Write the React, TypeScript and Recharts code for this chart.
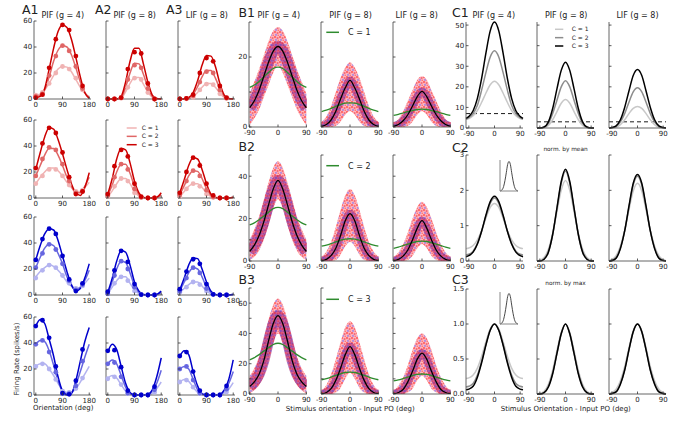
import React from 'react';
import { ComposedChart, Line, Area, XAxis, YAxis, ReferenceLine } from 'recharts';

const FONT = '"DejaVu Sans", sans-serif';
const TXT = '#222';
const SPINE = '#555';

// ---------------- A: tuning curves ----------------
const A_CURVE_X = [0, 15, 30, 45, 60, 75, 90, 105, 120, 135, 150, 165, 180];
const A_MARK_X = [0, 22.5, 45, 67.5, 90, 112.5, 135, 157.5];
const A_X_TICKS = [0, 90, 180];
const A_Y_TICKS = [0, 20, 40, 60];

const A1R1_C1 = [3, 4, 7, 12, 18, 23, 25, 24.5, 21, 15, 9, 4.5, 2];
const A1R1_C2 = [1.5, 3, 7, 17, 29, 37.5, 41, 40, 34, 24, 13, 5, 1];
const A1R1_C3 = [1, 2, 8, 23, 39, 52, 57, 55, 46, 32, 17, 5, 0.5];
const A1R1_M1 = [3, 5, 12, 20, 25, 23, 16, 7];
const A1R1_M2 = [2, 4, 18, 33, 41, 37, 25, 8];
const A1R1_M3 = [1, 3.3, 24, 46, 57, 53, 33, 10];

const A2R1_C1 = [0, 0, 0, 0.8, 5.5, 12, 16.5, 16.5, 11.5, 5.5, 1.3, 0, 0];
const A2R1_C2 = [0, 0, 0, 1, 9, 20, 27.5, 27, 19, 9, 2, 0.2, 0];
const A2R1_C3 = [0, 0, 0, 2, 13, 29, 39, 39, 27, 13, 3, 0.3, 0];
const A2R1_M1 = [0, 0, 0.5, 9, 16, 15, 5, 0];
const A2R1_M2 = [0, 0, 1, 15, 26, 24, 8, 0];
const A2R1_M3 = [0, 0, 1, 23, 36, 35, 12, 0];

const A3R1_C1 = [0, 0, 0.4, 2, 5, 9, 12, 12, 9, 4.5, 1.2, 0.1, 0];
const A3R1_C2 = [0, 0, 0.7, 3.5, 9.5, 17, 22, 22, 16, 8, 2, 0.2, 0];
const A3R1_C3 = [0, 0, 1, 5, 14, 26, 33.5, 33, 25, 12, 3, 0.3, 0];
const A3R1_M1 = [0, 0.2, 1.2, 7, 11.5, 11, 4, 0.4];
const A3R1_M2 = [0, 0.4, 2.5, 13, 21, 20, 7, 0.7];
const A3R1_M3 = [0, 0.5, 3.3, 20, 31.5, 29, 10, 1];

const A1R2_C1 = [11, 16, 20, 23, 23, 21, 17, 12, 8, 5, 5, 8, 12];
const A1R2_C2 = [17, 25, 33, 38, 38, 33, 25, 16, 9, 4, 4, 9, 16];
const A1R2_C3 = [22, 35, 47, 54, 53, 45, 34, 22, 11, 4, 2, 8, 19.5];
const A1R2_M1 = [11, 17, 22, 22, 17, 10, 5, 6];
const A1R2_M2 = [17, 30, 39, 37, 26, 13, 4, 5];
const A1R2_M3 = [23, 42, 54, 50, 35, 16, 3, 5];

const A2R2_C1 = [1, 5.5, 11, 15, 15, 11, 5, 1.5, 0.2, 0, 0, 0.2, 1.5];
const A2R2_C2 = [2, 10, 20, 26, 26, 19, 9, 2.5, 0.3, 0, 0, 0.3, 2.5];
const A2R2_C3 = [3, 15, 30, 38, 37, 27, 13, 4, 0.5, 0, 0, 0.5, 4];
const A2R2_M1 = [1, 9, 15, 13, 4, 0.3, 0, 0];
const A2R2_M2 = [2, 16, 26, 22, 7, 0.5, 0, 0];
const A2R2_M3 = [3, 24.5, 37, 32, 11, 1, 0, 0];

const A3R2_C1 = [1.2, 5, 9, 11, 11, 8, 4, 1, 0.1, 0, 0, 0, 0.1];
const A3R2_C2 = [2.5, 9.5, 17, 21, 20.5, 15, 7, 2, 0.3, 0, 0, 0, 0.3];
const A3R2_C3 = [4, 14, 25, 31, 30, 22, 11, 3, 0.5, 0, 0, 0, 0.5];
const A3R2_M1 = [1.2, 7, 11, 9, 3, 0.4, 0, 0];
const A3R2_M2 = [2.5, 13, 21, 17, 6, 0.8, 0, 0];
const A3R2_M3 = [4, 20, 31, 25, 11, 2, 0, 0];

const A1R3_C1 = [14, 18, 21, 23, 22, 19, 15, 10, 7, 5, 6, 9, 13];
const A1R3_C2 = [21, 29, 36, 39, 38, 32, 24, 14, 7, 4, 6, 11, 19];
const A1R3_C3 = [27, 38, 47, 51, 50, 42, 30, 18, 8, 3, 5, 13, 24];
const A1R3_M1 = [13, 19, 23, 21, 15, 9, 5, 7];
const A1R3_M2 = [21, 32, 39, 35, 24, 11, 4, 8];
const A1R3_M3 = [27, 43, 51, 47, 30, 12, 3, 9];

const A2R3_C1 = [1, 6, 11, 14, 14, 9, 4, 1, 0, 0, 0, 0.2, 1];
const A2R3_C2 = [1, 10, 20, 26, 25, 17, 7, 2, 0.2, 0, 0, 0.3, 2];
const A2R3_C3 = [2, 13, 26, 34, 33, 23, 10, 3, 0.3, 0, 0, 0.5, 3];
const A2R3_M1 = [0.8, 9, 14, 11, 3, 0.2, 0, 0];
const A2R3_M2 = [1, 15, 26, 20, 6, 0.3, 0, 0];
const A2R3_M3 = [2.5, 19, 34, 25.5, 8.4, 0.3, 0, 0];

const A3R3_C1 = [2, 5, 8, 10, 10, 7, 3, 1, 0, 0, 0, 0, 0];
const A3R3_C2 = [3, 10, 17, 21, 20, 14, 6, 2, 0.2, 0, 0, 0, 0.2];
const A3R3_C3 = [4, 13, 23, 28.5, 28, 20, 10, 3, 0.5, 0, 0, 0, 0.5];
const A3R3_M1 = [2, 6, 10, 8, 3, 0.3, 0, 0];
const A3R3_M2 = [3, 13, 21, 17, 5, 0.5, 0, 0];
const A3R3_M3 = [4.5, 18, 27.5, 24, 8.4, 0.5, 0, 0];

const A1R4_C1 = [22, 24, 24, 20, 15, 9, 4, 2, 2, 5, 10, 16, 22];
const A1R4_C2 = [39, 42, 41, 34, 23, 11, 3, 1, 2, 8, 18, 29, 39];
const A1R4_C3 = [53, 58, 55, 43, 30, 14, 3, 0, 1, 11, 26, 41, 52];
const A1R4_M1 = [22, 24, 20, 12, 3, 2, 5, 13];
const A1R4_M2 = [39, 42, 33, 17.5, 1, 1, 7, 26];
const A1R4_M3 = [53, 57.5, 44, 22, 1.5, 0.5, 11, 35];

const A2R4_C1 = [13, 15, 13, 8, 3, 0.5, 0, 0, 0, 0.1, 1.5, 5, 10];
const A2R4_C2 = [24, 27, 24, 15, 6, 1, 0, 0, 0, 0.3, 3, 9, 19];
const A2R4_C3 = [33, 39, 35, 22, 9, 2, 0, 0, 0, 0.5, 4, 14, 28.5];
const A2R4_M1 = [12.5, 14, 8, 1, 0, 0, 0, 2];
const A2R4_M2 = [24, 25, 14, 1.5, 0, 0, 0, 4];
const A2R4_M3 = [34, 34.5, 21.4, 3.3, 0, 0, 0, 6.4];

const A3R4_C1 = [10, 12, 10.5, 6, 2, 0.3, 0, 0, 0, 0.1, 1.5, 4.5, 9.5];
const A3R4_C2 = [20, 22, 20, 12, 4, 0.5, 0, 0, 0, 0.3, 3, 9, 18];
const A3R4_C3 = [30, 34, 31, 18, 7, 1, 0, 0, 0, 0.5, 4, 12, 27];
const A3R4_M1 = [10, 11.5, 6, 1, 0, 0, 0, 2.3];
const A3R4_M2 = [20, 22, 11.5, 1.5, 0, 0, 0, 4.5];
const A3R4_M3 = [30, 33, 18, 3.3, 0, 0, 0, 7];

const RED = ['#f0b3b3', '#e06666', '#cc0000'];
const BLUE = ['#b3b3f0', '#6666e0', '#0000cc'];

// ---------------- B: population responses ----------------
const B_X = [-90, -75, -60, -45, -30, -15, 0, 15, 30, 45, 60, 75, 90];
const B_X_TICKS = [-90, 0, 90];

const B1L_K = [5.5, 7.5, 10.5, 14.5, 18.5, 21.7, 23, 21.7, 18.5, 14.5, 10.5, 7.5, 5.5];
const B1L_G = [11.3, 12, 13, 14.3, 15.6, 16.7, 17.1, 16.7, 15.6, 14.3, 13, 12, 11.3];
const B1L_LO = [0.5, 2.5, 5, 8.5, 12, 15.5, 17.5, 15.5, 12, 8.5, 5, 2.5, 0.5];
const B1L_HI = [9.5, 13, 16.5, 20.5, 24.5, 27.5, 28.5, 27.5, 24.5, 20.5, 16.5, 13, 9.5];

const B1M_K = [0.2, 0.7, 2, 4.5, 8, 11.2, 13.3, 11.2, 8, 4.5, 2, 0.7, 0.2];
const B1M_G = [4.4, 4.8, 5.3, 5.9, 6.4, 6.8, 6.9, 6.8, 6.4, 5.9, 5.3, 4.8, 4.4];
const B1M_LO = [0, 0, 0, 0.3, 1.5, 3.5, 4.5, 3.5, 1.5, 0.3, 0, 0, 0];
const B1M_HI = [1.5, 3, 6, 10, 14, 17, 18.5, 17, 14, 10, 6, 3, 1.5];

const B1R_K = [0.2, 0.7, 1.8, 3.5, 6, 8.7, 10.2, 8.7, 6, 3.5, 1.8, 0.7, 0.2];
const B1R_G = [3.3, 3.6, 4, 4.4, 4.7, 5, 5.1, 5, 4.7, 4.4, 4, 3.6, 3.3];
const B1R_LO = [0, 0, 0, 0.3, 1.5, 3.5, 4.5, 3.5, 1.5, 0.3, 0, 0, 0];
const B1R_HI = [1.2, 2.2, 4.5, 7.5, 10.5, 13.5, 14.5, 13.5, 10.5, 7.5, 4.5, 2.2, 1.2];

const B2L_K = [4.5, 7.5, 12, 18.5, 26.5, 34, 38, 34, 26.5, 18.5, 12, 7.5, 4.5];
const B2L_G = [17, 18, 19.5, 21.2, 23, 24.7, 25.3, 24.7, 23, 21.2, 19.5, 18, 17];
const B2L_LO = [0.5, 2, 5, 10, 17, 25, 29, 25, 17, 10, 5, 2, 0.5];
const B2L_HI = [10, 15, 21, 29, 37, 44, 47, 44, 37, 29, 21, 15, 10];

const B2M_K = [0.2, 0.8, 2.5, 6, 12, 19, 22.3, 19, 12, 6, 2.5, 0.8, 0.2];
const B2M_G = [7, 7.5, 8.2, 9, 9.8, 10.3, 10.5, 10.3, 9.8, 9, 8.2, 7.5, 7];
const B2M_LO = [0, 0, 0, 0.5, 3, 7, 9, 7, 3, 0.5, 0, 0, 0];
const B2M_HI = [2, 4.5, 9, 16, 24, 31, 34, 31, 24, 16, 9, 4.5, 2];

const B2R_K = [0.2, 0.8, 2.3, 5.2, 10, 15.5, 19, 15.5, 10, 5.2, 2.3, 0.8, 0.2];
const B2R_G = [6, 6.5, 7.3, 8, 8.7, 9.2, 9.4, 9.2, 8.7, 8, 7.3, 6.5, 6];
const B2R_LO = [0, 0, 0, 0.5, 2.5, 6, 8, 6, 2.5, 0.5, 0, 0, 0];
const B2R_HI = [2, 4, 8, 13.5, 20, 25.5, 28, 25.5, 20, 13.5, 8, 4, 2];

const B3L_K = [5, 8, 13, 22, 35, 46.5, 51.7, 46.5, 35, 22, 13, 8, 5];
const B3L_G = [22.6, 24, 26, 28.3, 30.5, 32.7, 33.5, 32.7, 30.5, 28.3, 26, 24, 22.6];
const B3L_LO = [0.5, 2.5, 6, 12, 22, 34, 40, 34, 22, 12, 6, 2.5, 0.5];
const B3L_HI = [12, 17, 25, 36, 49, 59, 63, 59, 49, 36, 25, 17, 12];

const B3M_K = [0.2, 1, 3.5, 9, 17, 26, 31.3, 26, 17, 9, 3.5, 1, 0.2];
const B3M_G = [9.4, 10.2, 11.2, 12.3, 13.3, 14.2, 14.5, 14.2, 13.3, 12.3, 11.2, 10.2, 9.4];
const B3M_LO = [0, 0, 0, 1, 4, 10, 14, 10, 4, 1, 0, 0, 0];
const B3M_HI = [2.5, 6, 13, 23, 34, 44, 48, 44, 34, 23, 13, 6, 2.5];

const B3R_K = [0.2, 1, 3, 8, 15, 23, 27, 23, 15, 8, 3, 1, 0.2];
const B3R_G = [8.7, 9.3, 10.2, 11.2, 12.2, 13, 13.2, 13, 12.2, 11.2, 10.2, 9.3, 8.7];
const B3R_LO = [0, 0, 0, 1, 3.5, 9, 12, 9, 3.5, 1, 0, 0, 0];
const B3R_HI = [2.5, 5.5, 11, 19, 29, 37, 40, 37, 29, 19, 11, 5.5, 2.5];

// ---------------- C: model curves ----------------
const C_X = [-100, -90, -75, -60, -45, -30, -15, 0, 15, 30, 45, 60, 75, 90, 100];
const C_X_TICKS = [-90, 0, 90];
const C1_DASH = [7, 3, 3];

const C1L_K = [4.7, 5.6, 8.4, 14.4, 24.2, 36.5, 47.2, 51.5, 47.2, 36.5, 24.2, 14.4, 8.4, 5.6, 4.7];
const C1L_G = [4.3, 5, 7, 11, 18.5, 27, 34.5, 37.5, 34.5, 27, 18.5, 11, 7, 5, 4.3];
const C1L_L = [4.2, 4.6, 6, 8.5, 12.5, 17, 21, 22.7, 21, 17, 12.5, 8.5, 6, 4.6, 4.2];
const C1M_K = [0, 0, 0.5, 3, 9.5, 19, 28, 32, 28, 19, 9.5, 3, 0.5, 0, 0];
const C1M_G = [0, 0, 0.4, 2.2, 7, 13.5, 20, 23, 20, 13.5, 7, 2.2, 0.4, 0, 0];
const C1M_L = [0, 0, 0.2, 1.3, 4, 8, 12, 13.8, 12, 8, 4, 1.3, 0.2, 0, 0];
const C1R_K = [0, 0.2, 1, 4, 10, 18, 25.5, 28.4, 25.5, 18, 10, 4, 1, 0.2, 0];
const C1R_G = [0, 0.1, 0.8, 3, 7, 12.5, 17.5, 19.5, 17.5, 12.5, 7, 3, 0.8, 0.1, 0];
const C1R_L = [0, 0.1, 0.4, 1.6, 4, 7, 9.5, 10.5, 9.5, 7, 4, 1.6, 0.4, 0.1, 0];

const C2L_K = [0.12, 0.15, 0.25, 0.48, 0.85, 1.3, 1.68, 1.83, 1.68, 1.3, 0.85, 0.48, 0.25, 0.15, 0.12];
const C2L_G = [0.17, 0.19, 0.28, 0.5, 0.85, 1.27, 1.63, 1.78, 1.63, 1.27, 0.85, 0.5, 0.28, 0.19, 0.17];
const C2L_L = [0.35, 0.37, 0.44, 0.6, 0.87, 1.22, 1.52, 1.63, 1.52, 1.22, 0.87, 0.6, 0.44, 0.37, 0.35];
const C2M_K = [0, 0, 0.05, 0.25, 0.75, 1.5, 2.25, 2.6, 2.25, 1.5, 0.75, 0.25, 0.05, 0, 0];
const C2M_G = [0, 0, 0.06, 0.27, 0.75, 1.48, 2.2, 2.55, 2.2, 1.48, 0.75, 0.27, 0.06, 0, 0];
const C2M_L = [0, 0.02, 0.1, 0.33, 0.78, 1.4, 2.0, 2.28, 2.0, 1.4, 0.78, 0.33, 0.1, 0.02, 0];
const C2R_K = [0, 0.01, 0.08, 0.35, 0.85, 1.55, 2.2, 2.45, 2.2, 1.55, 0.85, 0.35, 0.08, 0.01, 0];
const C2R_G = [0, 0.02, 0.1, 0.37, 0.85, 1.52, 2.15, 2.4, 2.15, 1.52, 0.85, 0.37, 0.1, 0.02, 0];
const C2R_L = [0.01, 0.04, 0.15, 0.42, 0.87, 1.45, 1.98, 2.2, 1.98, 1.45, 0.87, 0.42, 0.15, 0.04, 0.01];

const C3L_K = [0.06, 0.07, 0.11, 0.24, 0.45, 0.7, 0.91, 1, 0.91, 0.7, 0.45, 0.24, 0.11, 0.07, 0.06];
const C3L_G = [0.1, 0.11, 0.15, 0.27, 0.47, 0.71, 0.91, 1, 0.91, 0.71, 0.47, 0.27, 0.15, 0.11, 0.1];
const C3L_L = [0.22, 0.23, 0.27, 0.37, 0.54, 0.75, 0.93, 1, 0.93, 0.75, 0.54, 0.37, 0.27, 0.23, 0.22];
const C3M_K = [0, 0, 0.02, 0.1, 0.29, 0.58, 0.86, 1, 0.86, 0.58, 0.29, 0.1, 0.02, 0, 0];
const C3M_G = [0, 0, 0.02, 0.11, 0.3, 0.58, 0.86, 1, 0.86, 0.58, 0.3, 0.11, 0.02, 0, 0];
const C3M_L = [0, 0.01, 0.04, 0.14, 0.34, 0.62, 0.88, 1, 0.88, 0.62, 0.34, 0.14, 0.04, 0.01, 0];
const C3R_K = [0, 0.005, 0.03, 0.14, 0.34, 0.63, 0.89, 1, 0.89, 0.63, 0.34, 0.14, 0.03, 0.005, 0];
const C3R_G = [0, 0.01, 0.04, 0.15, 0.35, 0.63, 0.89, 1, 0.89, 0.63, 0.35, 0.15, 0.04, 0.01, 0];
const C3R_L = [0, 0.02, 0.07, 0.19, 0.39, 0.66, 0.9, 1, 0.9, 0.66, 0.39, 0.19, 0.07, 0.02, 0];

const INSET_X = [-100, -80, -60, -45, -30, -15, 0, 15, 30, 45, 60, 80, 100];
const INSET_Y = [0, 0.03, 0.15, 0.35, 0.62, 0.9, 1, 0.9, 0.62, 0.35, 0.15, 0.03, 0];

const GRAYS = ['#c8c8c8', '#8c8c8c', '#000000'];
const GREEN = '#2e8b2e';

// ---------------- table builders ----------------
function buildA(c: number[][], m: number[][]) {
  const xs = Array.from(new Set([...A_CURVE_X, ...A_MARK_X])).sort((a, b) => a - b);
  return xs.map((x) => {
    const i = A_CURVE_X.indexOf(x);
    const j = A_MARK_X.indexOf(x);
    return {
      x,
      c1: i >= 0 ? c[0][i] : null,
      c2: i >= 0 ? c[1][i] : null,
      c3: i >= 0 ? c[2][i] : null,
      m1: j >= 0 ? m[0][j] : null,
      m2: j >= 0 ? m[1][j] : null,
      m3: j >= 0 ? m[2][j] : null,
    };
  });
}
function buildB(k: number[], g: number[], lo: number[], hi: number[]) {
  return B_X.map((x, i) => ({ x, k: k[i], g: g[i], lo: lo[i], hi: hi[i] }));
}
function buildC(l: number[], g: number[], k: number[]) {
  return C_X.map((x, i) => ({ x, l: l[i], g: g[i], k: k[i] }));
}

// ---------------- ticks ----------------
const xTick = (p: any) => {
  const { x, y, payload } = p;
  return (
    <g>
      <line x1={x} x2={x} y1={y} y2={y - 2.5} stroke="#333" strokeWidth={0.8} />
      <text x={x} y={y + 7.5} textAnchor="middle" fontSize={7} fontFamily={FONT} fill={TXT}>
        {payload.value}
      </text>
    </g>
  );
};
const makeYTick = (labels: number[], fmt?: (v: number) => string) => (p: any) => {
  const { x, y, payload } = p;
  const v = payload.value;
  const show = labels.indexOf(v) >= 0;
  return (
    <g>
      <line x1={x} x2={x + 2.5} y1={y} y2={y} stroke="#333" strokeWidth={0.8} />
      {show ? (
        <text x={x - 1.8} y={y} dy="0.35em" textAnchor="end" fontSize={7} fontFamily={FONT} fill={TXT}>
          {fmt ? fmt(v) : v}
        </text>
      ) : null}
    </g>
  );
};

const ML = 30, MT = 6, MR = 8, MB = 14;

function Panel(props: any) {
  const { left, top, w, h, xDomain, yDomain, xTicks, yTicks, yLabels, yFmt, data, clip, children } = props;
  return (
    <div style={{ position: 'absolute', left: left - ML, top: top - MT }}>
      <ComposedChart width={w + ML + MR} height={h + MT + MB} data={data} margin={{ top: MT, right: MR, bottom: 0, left: 0 }}>
        <XAxis type="number" dataKey="x" domain={xDomain} ticks={xTicks} interval={0} height={MB}
          tickSize={0} tickMargin={0} tickLine={false} axisLine={{ stroke: SPINE, strokeWidth: 0.9 }}
          tick={xTick} allowDataOverflow={!!clip} />
        <YAxis type="number" domain={yDomain} ticks={yTicks} interval={0} width={ML}
          tickSize={0} tickMargin={0} tickLine={false} axisLine={{ stroke: SPINE, strokeWidth: 0.9 }}
          tick={makeYTick(yLabels, yFmt)} allowDataOverflow={!!clip} />
        {children}
      </ComposedChart>
    </div>
  );
}

function APanel({ left, top, showY, c, m, colors }: any) {
  const data = buildA(c, m);
  return (
    <Panel left={left} top={top} w={57} h={78} xDomain={[-6, 186]} yDomain={[0, 60]} xTicks={A_X_TICKS}
      yTicks={A_Y_TICKS} yLabels={showY ? A_Y_TICKS : []} data={data}>
      {[0, 1, 2].map((i) => (
        <Line key={'c' + i} dataKey={'c' + (i + 1)} type="monotone" stroke={colors[i]} strokeWidth={1.5}
          dot={false} connectNulls isAnimationActive={false} />
      ))}
      {[0, 1, 2].map((i) => (
        <Line key={'m' + i} dataKey={'m' + (i + 1)} stroke="none" strokeWidth={0}
          dot={{ r: 2.4, fill: colors[i], stroke: colors[i], strokeWidth: 0 }} activeDot={false} isAnimationActive={false} />
      ))}
    </Panel>
  );
}

function BPanel({ id, left, top, h, yMax, yTicks, yLabels, arrs, thick }: any) {
  const data = buildB(arrs[0], arrs[1], arrs[2], arrs[3]);
  const cloud = `cloud-${id}`;
  const dense = `dense-${id}`;
  return (
    <Panel left={left} top={top} w={58} h={h} xDomain={[-92, 92]} yDomain={[0, yMax]} xTicks={B_X_TICKS}
      yTicks={yTicks} yLabels={yLabels} data={data} clip>
      <defs>
        <pattern id={cloud} width={5} height={5} patternUnits="userSpaceOnUse">
          <rect x={0} y={0} width={5} height={5} fill="#ffb0b6" />
          <circle cx={1} cy={1} r={1.15} fill="#ff1a1a" fillOpacity={0.6} />
          <circle cx={3.6} cy={2.1} r={1.1} fill="#e81830" fillOpacity={0.55} />
          <circle cx={2} cy={3.9} r={1.1} fill="#4a40ff" fillOpacity={0.45} />
          <circle cx={4.4} cy={4.5} r={0.9} fill="#ff2020" fillOpacity={0.5} />
        </pattern>
        <pattern id={dense} width={4} height={4} patternUnits="userSpaceOnUse">
          <rect x={0} y={0} width={4} height={4} fill="#a4287a" />
          <circle cx={1} cy={1} r={1} fill="#3018c0" fillOpacity={0.65} />
          <circle cx={3} cy={3} r={1} fill="#e81030" fillOpacity={0.7} />
          <circle cx={3} cy={1} r={0.8} fill="#6a1aa8" fillOpacity={0.6} />
        </pattern>
      </defs>
      <Area dataKey={(d: any) => [d.lo, d.hi]} type="monotone" stroke="none" fill={`url(#${cloud})`} fillOpacity={0.9}
        isAnimationActive={false} />
      <Line dataKey="k" type="monotone" stroke={`url(#${dense})`} strokeOpacity={0.6} strokeWidth={thick} dot={false}
        isAnimationActive={false} />
      <Line dataKey="g" type="monotone" stroke={GREEN} strokeWidth={1.3} dot={false} isAnimationActive={false} />
      <Line dataKey="k" type="monotone" stroke="#000" strokeWidth={1.3} dot={false} isAnimationActive={false} />
    </Panel>
  );
}

function CPanel({ left, top, h, yMax, yTicks, yLabels, yFmt, arrs, dash }: any) {
  const data = buildC(arrs[0], arrs[1], arrs[2]);
  return (
    <Panel left={left} top={top} w={57} h={h} xDomain={[-100, 100]} yDomain={[0, yMax]} xTicks={C_X_TICKS}
      yTicks={yTicks} yLabels={yLabels} yFmt={yFmt} data={data}>
      {dash !== undefined ? (
        <ReferenceLine y={dash} stroke="#000" strokeWidth={0.9} strokeDasharray="4 3" ifOverflow="visible" />
      ) : null}
      <Line dataKey="l" type="monotone" stroke={GRAYS[0]} strokeWidth={1.5} dot={false} isAnimationActive={false} />
      <Line dataKey="g" type="monotone" stroke={GRAYS[1]} strokeWidth={1.5} dot={false} isAnimationActive={false} />
      <Line dataKey="k" type="monotone" stroke={GRAYS[2]} strokeWidth={1.5} dot={false} isAnimationActive={false} />
    </Panel>
  );
}

function Inset({ left, top, w, h }: any) {
  const data = INSET_X.map((x, i) => ({ x, y: INSET_Y[i] }));
  return (
    <div style={{ position: 'absolute', left: left - 2, top: top - 2 }}>
      <ComposedChart width={w + 4} height={h + 4} data={data} margin={{ top: 2, right: 2, bottom: 1, left: 1 }}>
        <XAxis type="number" dataKey="x" domain={[-100, 100]} height={1} tick={false} tickLine={false}
          axisLine={{ stroke: '#888', strokeWidth: 1 }} />
        <YAxis type="number" domain={[0, 1.05]} width={1} tick={false} tickLine={false}
          axisLine={{ stroke: '#888', strokeWidth: 1 }} />
        <Line dataKey="y" type="monotone" stroke="#333" strokeWidth={0.9} dot={false} isAnimationActive={false} />
      </ComposedChart>
    </div>
  );
}

const A_COLS = [34, 106, 178];
const A_ROWS = [21, 120, 217, 317];
const A_SETS = [
  [[[A1R1_C1, A1R1_C2, A1R1_C3], [A1R1_M1, A1R1_M2, A1R1_M3]], [[A2R1_C1, A2R1_C2, A2R1_C3], [A2R1_M1, A2R1_M2, A2R1_M3]], [[A3R1_C1, A3R1_C2, A3R1_C3], [A3R1_M1, A3R1_M2, A3R1_M3]]],
  [[[A1R2_C1, A1R2_C2, A1R2_C3], [A1R2_M1, A1R2_M2, A1R2_M3]], [[A2R2_C1, A2R2_C2, A2R2_C3], [A2R2_M1, A2R2_M2, A2R2_M3]], [[A3R2_C1, A3R2_C2, A3R2_C3], [A3R2_M1, A3R2_M2, A3R2_M3]]],
  [[[A1R3_C1, A1R3_C2, A1R3_C3], [A1R3_M1, A1R3_M2, A1R3_M3]], [[A2R3_C1, A2R3_C2, A2R3_C3], [A2R3_M1, A2R3_M2, A2R3_M3]], [[A3R3_C1, A3R3_C2, A3R3_C3], [A3R3_M1, A3R3_M2, A3R3_M3]]],
  [[[A1R4_C1, A1R4_C2, A1R4_C3], [A1R4_M1, A1R4_M2, A1R4_M3]], [[A2R4_C1, A2R4_C2, A2R4_C3], [A2R4_M1, A2R4_M2, A2R4_M3]], [[A3R4_C1, A3R4_C2, A3R4_C3], [A3R4_M1, A3R4_M2, A3R4_M3]]],
];

const B_COLS = [249, 321, 393];
const B_ROWS = [
  { top: 22, h: 105, yMax: 30, ticks: [0, 10, 20, 30], labels: [0, 20] },
  { top: 155, h: 106, yMax: 50, ticks: [0, 10, 20, 30, 40, 50], labels: [0, 20, 40] },
  { top: 288, h: 106, yMax: 70, ticks: [0, 10, 20, 30, 40, 50, 60, 70], labels: [0, 20, 40, 60] },
];
const B_SETS = [
  [[B1L_K, B1L_G, B1L_LO, B1L_HI], [B1M_K, B1M_G, B1M_LO, B1M_HI], [B1R_K, B1R_G, B1R_LO, B1R_HI]],
  [[B2L_K, B2L_G, B2L_LO, B2L_HI], [B2M_K, B2M_G, B2M_LO, B2M_HI], [B2R_K, B2R_G, B2R_LO, B2R_HI]],
  [[B3L_K, B3L_G, B3L_LO, B3L_HI], [B3M_K, B3M_G, B3M_LO, B3M_HI], [B3R_K, B3R_G, B3R_LO, B3R_HI]],
];

const C_COLS = [466, 537, 609];
const C_ROWS = [
  { top: 22, h: 106, yMax: 51.5, ticks: [0, 10, 20, 30, 40, 50], fmt: undefined },
  { top: 155, h: 106, yMax: 3, ticks: [0, 1, 2, 3], fmt: undefined },
  { top: 289, h: 105, yMax: 1.5, ticks: [0, 0.5, 1, 1.5], fmt: (v: number) => v.toFixed(1) },
];
const C_SETS = [
  [[C1L_L, C1L_G, C1L_K], [C1M_L, C1M_G, C1M_K], [C1R_L, C1R_G, C1R_K]],
  [[C2L_L, C2L_G, C2L_K], [C2M_L, C2M_G, C2M_K], [C2R_L, C2R_G, C2R_K]],
  [[C3L_L, C3L_G, C3L_K], [C3M_L, C3M_G, C3M_K], [C3R_L, C3R_G, C3R_K]],
];

function T({ x, y, s, children, anchor, rot }: any) {
  return (
    <text x={x} y={y} fontSize={s} fontFamily={FONT} fill={TXT} textAnchor={anchor || 'start'}
      transform={rot ? `rotate(${rot} ${x} ${y})` : undefined}>
      {children}
    </text>
  );
}

export default function App() {
  return (
    <div style={{ position: 'absolute', left: 0, top: 0, width: 683, height: 427, background: '#fff', overflow: 'hidden' }}>
      {A_ROWS.map((top, r) =>
        A_COLS.map((left, c) => (
          <APanel key={`a${r}${c}`} left={left} top={top} showY={c === 0}
            c={A_SETS[r][c][0]} m={A_SETS[r][c][1]} colors={r < 2 ? RED : BLUE} />
        ))
      )}
      {B_ROWS.map((row, r) =>
        B_COLS.map((left, c) => (
          <BPanel key={`b${r}${c}`} id={`${r}${c}`} left={left} top={row.top} h={row.h} yMax={row.yMax} yTicks={row.ticks}
            yLabels={c === 0 ? row.labels : []} arrs={B_SETS[r][c]} thick={c === 0 ? 11 : 8} />
        ))
      )}
      {C_ROWS.map((row, r) =>
        C_COLS.map((left, c) => (
          <CPanel key={`c${r}${c}`} left={left} top={row.top} h={row.h} yMax={row.yMax} yTicks={row.ticks}
            yLabels={c === 0 ? row.ticks : []} yFmt={row.fmt} arrs={C_SETS[r][c]}
            dash={r === 0 ? C1_DASH[c] : undefined} />
        ))
      )}
      <Inset left={500} top={160} w={18} h={31} />
      <Inset left={500} top={292} w={18} h={32} />
      <svg width={683} height={427} style={{ position: 'absolute', left: 0, top: 0, pointerEvents: 'none' }}>
        <T x={22} y={14} s={12.5}>A1</T>
        <T x={95} y={14} s={12.5}>A2</T>
        <T x={166} y={14} s={12.5}>A3</T>
        <T x={238.5} y={17} s={12.5}>B1</T>
        <T x={238.5} y={150.5} s={12.5}>B2</T>
        <T x={238.5} y={284} s={12.5}>B3</T>
        <T x={452} y={17} s={12.5}>C1</T>
        <T x={452} y={151.5} s={12.5}>C2</T>
        <T x={452} y={284} s={12.5}>C3</T>

        <T x={62.8} y={17.8} s={8} anchor="middle">PIF (g = 4)</T>
        <T x={134.7} y={17.8} s={8} anchor="middle">PIF (g = 8)</T>
        <T x={206.8} y={17.8} s={8} anchor="middle">LIF (g = 8)</T>
        <T x={278.8} y={17.8} s={8} anchor="middle">PIF (g = 4)</T>
        <T x={350.5} y={17.8} s={8} anchor="middle">PIF (g = 8)</T>
        <T x={416.7} y={17.8} s={8} anchor="middle">LIF (g = 8)</T>
        <T x={493.8} y={17.8} s={8} anchor="middle">PIF (g = 4)</T>
        <T x={566.2} y={17.8} s={8} anchor="middle">PIF (g = 8)</T>
        <T x={637.5} y={17.8} s={8} anchor="middle">LIF (g = 8)</T>

        <T x={18.5} y={359} s={7} anchor="middle" rot={-90}>Firing Rate (spikes/s)</T>
        <T x={63.3} y={410} s={7} anchor="middle">Orientation (deg)</T>
        <T x={350.2} y={410.5} s={7} anchor="middle">Stimulus orientation - Input PO (deg)</T>
        <T x={565.8} y={410.5} s={7} anchor="middle">Stimulus Orientation - Input PO (deg)</T>
        <T x={565.5} y={151} s={5.8} anchor="middle">norm. by mean</T>
        <T x={565.5} y={285} s={5.8} anchor="middle">norm. by max</T>

        {['C = 1', 'C = 2', 'C = 3'].map((lab, i) => (
          <g key={'al' + i}>
            <line x1={126.7} x2={136.7} y1={128 + i * 8.35} y2={128 + i * 8.35} stroke={RED[i]} strokeWidth={1.5} />
            <text x={141.7} y={128 + i * 8.35} dy="0.35em" fontSize={6} fontFamily={FONT} fill={TXT}>{lab}</text>
          </g>
        ))}
        {['C = 1', 'C = 2', 'C = 3'].map((lab, i) => (
          <g key={'cl' + i}>
            <line x1={555} x2={563.3} y1={29.3 + i * 8.35} y2={29.3 + i * 8.35} stroke={GRAYS[i]} strokeWidth={1.5} />
            <text x={571.7} y={29.3 + i * 8.35} dy="0.35em" fontSize={6} fontFamily={FONT} fill={TXT}>{lab}</text>
          </g>
        ))}
        {[['C = 1', 32.3], ['C = 2', 165.7], ['C = 3', 299.3]].map(([lab, y]: any, i) => (
          <g key={'bl' + i}>
            <line x1={326.3} x2={339} y1={y} y2={y} stroke={GREEN} strokeWidth={1.5} />
            <text x={348} y={y} dy="0.35em" fontSize={8} fontFamily={FONT} fill={TXT}>{lab}</text>
          </g>
        ))}
      </svg>
    </div>
  );
}
